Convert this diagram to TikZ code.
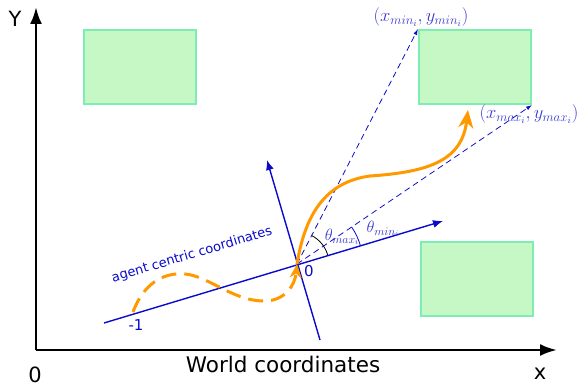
\RequirePackage{fix-cm}
\documentclass[tikz,border=0pt]{standalone}
\usepackage{amsmath}
\usepackage{fontspec}
\setmainfont{DejaVu Sans}
\usepackage{tikz}
\usetikzlibrary{arrows.meta, calc, positioning, angles}
\definecolor{agentblue}{HTML}{0A0ACC}
\definecolor{labelblue}{HTML}{3A3AD0}
\definecolor{trajorange}{HTML}{FF9900}
\definecolor{obsfill}{HTML}{C6F8C6}
\definecolor{obsedge}{HTML}{7DEDB4}

\begin{document}
\begin{tikzpicture}[x=1pt,y=-1pt,
    obstacle/.style={draw=obsedge,fill=obsfill,line width=2pt,minimum width=112pt,minimum height=74pt,inner sep=0pt},
    worldaxis/.style={-{Latex[length=17pt,width=12pt]},line width=2.6pt,black},
    agentaxis/.style={-{Latex[length=10pt,width=8pt]},line width=1.4pt,agentblue},
    bound/.style={-{Latex[length=6pt,width=4pt]},dashed,dash pattern=on 6pt off 4pt,line width=0.8pt,agentblue},
    traj/.style={line width=3pt,trajorange},
    mathlbl/.style={labelblue,font=\fontsize{18.5}{20}\selectfont,inner sep=1pt},
    anglbl/.style={labelblue,font=\fontsize{16.5}{18}\selectfont,inner sep=1pt}]
      \useasboundingbox (0,0) rectangle (581,385);
      \coordinate (w0) at (36,350);
      \coordinate (wy) at (36,7);
      \coordinate (wx) at (557,350);
      \draw[worldaxis] (w0) -- (wy);
      \draw[worldaxis] (w0) -- (wx);
      \node[font=\fontsize{21}{24}\selectfont] (ylbl) at (15,19) {Y};
      \node[font=\fontsize{21}{24}\selectfont] (zlbl) at (35,375) {0};
      \node[font=\fontsize{21}{24}\selectfont] (xlbl) at (540,374) {x};
      \node[font=\fontsize{21.5}{24}\selectfont] (wlbl) at (283,364) {World coordinates};
      \node[obstacle] (obs1) at (140,67) {};
      \node[obstacle] (obs2) at (475,67) {};
      \node[obstacle] (obs3) at (477,279) {};
      \coordinate (minpt) at (obs2.north west);
      \coordinate (maxpt) at (obs2.south east);
      \coordinate (O) at (297,264);
      \coordinate (xs) at (104,323);
      \coordinate (xe) at (443,221);
      \coordinate (ys) at (320,340);
      \coordinate (ye) at (267,160);
      \draw[agentaxis] (xs) -- (xe);
      \draw[agentaxis] (ys) -- (ye);
      \node[agentblue,font=\fontsize{15}{17}\selectfont] (olbl) at (309,271) {0};
      \node[agentblue,font=\fontsize{15}{17}\selectfont] (mlbl) at (136,325) {-1};
      \node[agentblue,rotate=16.6,font=\fontsize{13}{15}\selectfont] (alabel) at (192,255) {agent centric coordinates};
      \draw[bound] (O) -- (minpt);
      \draw[bound] (O) -- (maxpt);
      \node[mathlbl] (minlbl) at (421,17) {$(x_{min_i},y_{min_i})$};
      \node[mathlbl] (maxlbl) at (529,114) {$(x_{max_i},y_{max_i})$};
      \pic[draw=black,line width=0.8pt,angle radius=32pt] {angle=xe--O--minpt};
      \pic[draw=agentblue,line width=0.8pt,angle radius=66pt] {angle=xe--O--maxpt};
      \node[anglbl] (tmax) at (342,237) {$\theta_{max_i}$};
      \node[anglbl] (tmin) at (383,229) {$\theta_{min_i}$};
      \draw[traj,dash pattern=on 15pt off 8pt,-{Stealth[length=14pt,width=12pt]}]
        (133,312)
        .. controls (143,285) and (162,272) .. (185,274)
        .. controls (208,276) and (232,300) .. (262,301)
        .. controls (285,302) and (295,285) .. (O);
      \draw[traj,-{Stealth[length=18pt,width=15pt]}]
        (O)
        .. controls (305,215) and (325,182) .. (370,176)
        .. controls (430,172) and (462,160) .. (468,110);
    \end{tikzpicture}
\end{document}
